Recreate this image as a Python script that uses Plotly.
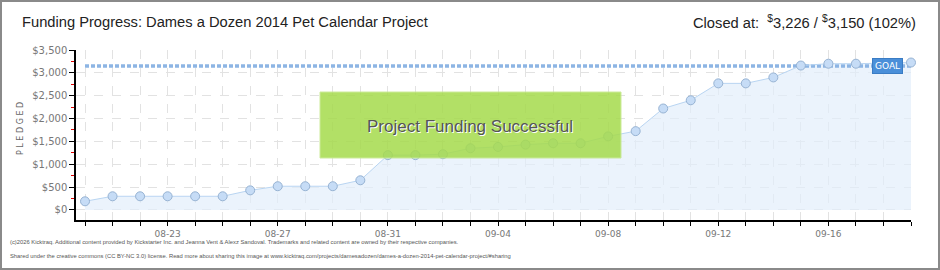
import pandas as pd
import plotly.graph_objects as go

# ---------------- data ----------------
dates = pd.date_range("2014-08-20", "2014-09-19", freq="D")
pledged = [190, 300, 300, 300, 300, 300, 430, 520, 520, 520, 650,
           1200, 1200, 1220, 1350, 1380, 1430, 1460, 1460, 1610, 1725,
           2220, 2400, 2770, 2770, 2900, 3160, 3200, 3200, 3210, 3226]
goal = 3150
closed_at = 3226
title_text = "Funding Progress: Dames a Dozen 2014 Pet Calendar Project"
footer_lines = [
    "(c)2026 Kicktraq. Additional content provided by Kickstarter Inc. and Jeanna Vent & Alexz Sandoval. Trademarks and related content are owned by their respective companies.",
    "Shared under the creative commons (CC BY-NC 3.0) license. Read more about sharing this image at www.kicktraq.com/projects/damesadozen/dames-a-dozen-2014-pet-calendar-project/#sharing",
]

# ---------------- layout geometry ----------------
W, H = 940, 270
L, R, T, B = 76, 911, 50, 220
def px(x):
    return (x - L) / (R - L)
def py(y):
    return (B - y) / (B - T)

DAY = 86400000
x_start = dates[0] - pd.Timedelta(hours=7.85)
x_end = dates[-1]
y_min = -219
FONT = "Liberation Sans, Arial, sans-serif"

fig = go.Figure()

# area fill
fig.add_trace(go.Scatter(
    x=dates, y=pledged, mode="none", fill="tozeroy",
    fillcolor="rgba(226,238,251,0.7)", hoverinfo="skip", showlegend=False))

# goal line
fig.add_trace(go.Scatter(
    x=[dates[0], dates[-1]], y=[goal, goal], mode="lines",
    line=dict(color="#8db5e4", width=3.5, dash="4px,2px"),
    hoverinfo="skip", showlegend=False, cliponaxis=False))

# pledged line + markers
fig.add_trace(go.Scatter(
    x=dates, y=pledged, mode="lines+markers",
    line=dict(color="#b9d5f2", width=1),
    marker=dict(size=9, color="#c6dcf6", line=dict(color="#97b3d3", width=1)),
    showlegend=False, cliponaxis=False))

shapes = [
    # masks for the offset axes region
    dict(type="rect", xref="paper", yref="paper", x0=0, x1=px(85), y0=0, y1=1,
         fillcolor="white", line=dict(width=0), layer="between"),
    dict(type="rect", xref="paper", yref="paper", x0=0, x1=1, y0=0, y1=py(210.5),
         fillcolor="white", line=dict(width=0), layer="between"),
    # success banner
    dict(type="rect", xref="paper", yref="paper", x0=px(320), x1=px(621),
         y0=py(158), y1=py(92), fillcolor="#a6db4e", opacity=0.86,
         line=dict(color="#c4e88a", width=1), layer="above"),
    # outer frame
    dict(type="rect", xref="paper", yref="paper", x0=px(1), x1=px(W - 1),
         y0=py(H - 1), y1=py(1), line=dict(color="#8a8a8a", width=2),
         fillcolor="rgba(0,0,0,0)", layer="above"),
]

annotations = [
    dict(x=px(20), y=py(22), xref="paper", yref="paper", xanchor="left", yanchor="middle",
         text=title_text, showarrow=False,
         font=dict(family=FONT, size=14.7, color="#222")),
    dict(x=px(918), y=py(22), xref="paper", yref="paper", xanchor="right", yanchor="middle",
         text="Closed at:  <sup>$</sup>{:,} / <sup>$</sup>{:,} ({}%)".format(
             closed_at, goal, round(closed_at / goal * 100)),
         showarrow=False,
         font=dict(family=FONT, size=14.7, color="#222")),
    dict(x=px(20), y=py(129), xref="paper", yref="paper", xanchor="center", yanchor="middle",
         text="P L E D G E D", textangle=-90, showarrow=False,
         font=dict(family="DejaVu Sans", size=8, color="#666")),
    dict(x=px(470), y=py(126), xref="paper", yref="paper", xanchor="center", yanchor="middle",
         text="Project Funding Successful", showarrow=False,
         font=dict(family=FONT, size=17, color="#555",
                   shadow="1px 1px 0px #ffffff")),
    dict(x=px(887.5), y=goal, xref="paper", yref="y", xanchor="center", yanchor="middle",
         text="GOAL", showarrow=False, bgcolor="#4a8fd9", bordercolor="#3a7cc4", borderwidth=1,
         borderpad=2, font=dict(family="DejaVu Sans", size=9, color="white")),
    dict(x=px(8), y=py(242), xref="paper", yref="paper", xanchor="left", yanchor="middle",
         text=footer_lines[0], showarrow=False,
         font=dict(family=FONT, size=5.8, color="#555")),
    dict(x=px(8), y=py(256), xref="paper", yref="paper", xanchor="left", yanchor="middle",
         text=footer_lines[1], showarrow=False,
         font=dict(family=FONT, size=5.8, color="#555")),
]

fig.update_layout(
    width=W, height=H,
    margin=dict(l=L, r=W - R, t=T, b=H - B, pad=0),
    paper_bgcolor="white", plot_bgcolor="white",
    shapes=shapes, annotations=annotations,
    showlegend=False,
    xaxis=dict(
        type="date", range=[x_start, x_end], tick0="2014-08-23", dtick=4 * DAY,
        tickformat="%m-%d", ticks="outside", ticklen=4, tickcolor="black", tickwidth=1,
        showline=True, linecolor="black", linewidth=1.5,
        showgrid=True, gridcolor="#e2e2e2", griddash="dash", gridwidth=1,
        minor=dict(dtick=DAY, tick0="2014-08-20", ticks="outside", ticklen=4,
                   tickcolor="black", showgrid=True, gridcolor="#e2e2e2", griddash="dash"),
        tickfont=dict(family="DejaVu Sans", size=9, color="#777"),
        zeroline=False, fixedrange=True,
    ),
    yaxis=dict(
        range=[y_min, 3500], tick0=0, dtick=500, tickprefix="$", tickformat=",d",
        ticks="outside", ticklen=5, tickcolor="black", tickwidth=1,
        showline=True, linecolor="black", linewidth=1.5,
        showgrid=True, gridcolor="#e2e2e2", griddash="dash", gridwidth=1,
        minor=dict(dtick=250, tick0=0, ticks="outside", ticklen=3, tickcolor="#e00000",
                   showgrid=False),
        tickfont=dict(family="DejaVu Sans", size=10, color="#777"),
        zeroline=False, fixedrange=True,
    ),
)

fig.write_html("out.html")
